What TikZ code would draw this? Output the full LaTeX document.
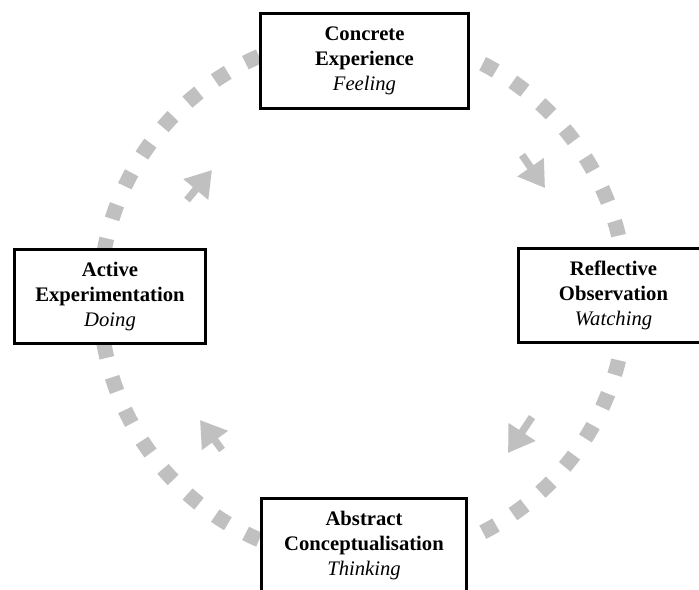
\documentclass[tikz,border=0pt]{standalone}
\usepackage{fontspec}
\setmainfont{Liberation Serif}
\usetikzlibrary{arrows.meta}
\definecolor{cyclegray}{RGB}{192,192,192}

\tikzset{
  stage/.style={draw=black, line width=2.25pt, fill=white, align=center,
    minimum height=71pt, inner sep=2pt, font=\fontsize{15.5}{18.75}\selectfont},
  flow/.style={cyclegray, line width=5.5pt, -{Triangle[length=19pt, width=23pt]}}
}

\begin{document}
\begin{tikzpicture}[x=0.75pt, y=-0.75pt]

  \clip (0,0) rectangle (699,589);
  \fill[white] (0,0) rectangle (699,589);

  % Cycle
  \coordinate (centre) at (363,298);
  \draw[cyclegray, line width=11.25pt, dash pattern=on 11.25pt off 15.12pt,
    dash phase=5.625pt] (centre) circle [radius=263];

  % Arrows
  \coordinate (tr-tail) at (522,155);
  \coordinate (tr-tip) at (545,188);
  \coordinate (br-tail) at (532,417);
  \coordinate (br-tip) at (508,453);
  \coordinate (bl-tail) at (222,450);
  \coordinate (bl-tip) at (200,420);
  \coordinate (tl-tail) at (187,200);
  \coordinate (tl-tip) at (212,170);
  \foreach \a in {tr,br,bl,tl}
  {
    \draw[flow] (\a-tail) -- (\a-tip);
  }

  % Stages
  \node[stage, minimum width=156pt] (concrete) at (364.5,61)
    {\textbf{Concrete}\\\textbf{Experience}\\\textit{Feeling}};
  \node[stage, minimum width=142.5pt] (reflective) at (613.5,295.5)
    {\textbf{Reflective}\\\textbf{Observation}\\\textit{Watching}};
  \node[stage, minimum width=153.75pt] (abstract) at (364,546)
    {\textbf{Abstract}\\\textbf{Conceptualisation}\\\textit{Thinking}};
  \node[stage, minimum width=143.25pt] (active) at (110,296.5)
    {\textbf{Active}\\\textbf{Experimentation}\\\textit{Doing}};

\end{tikzpicture}
\end{document}
